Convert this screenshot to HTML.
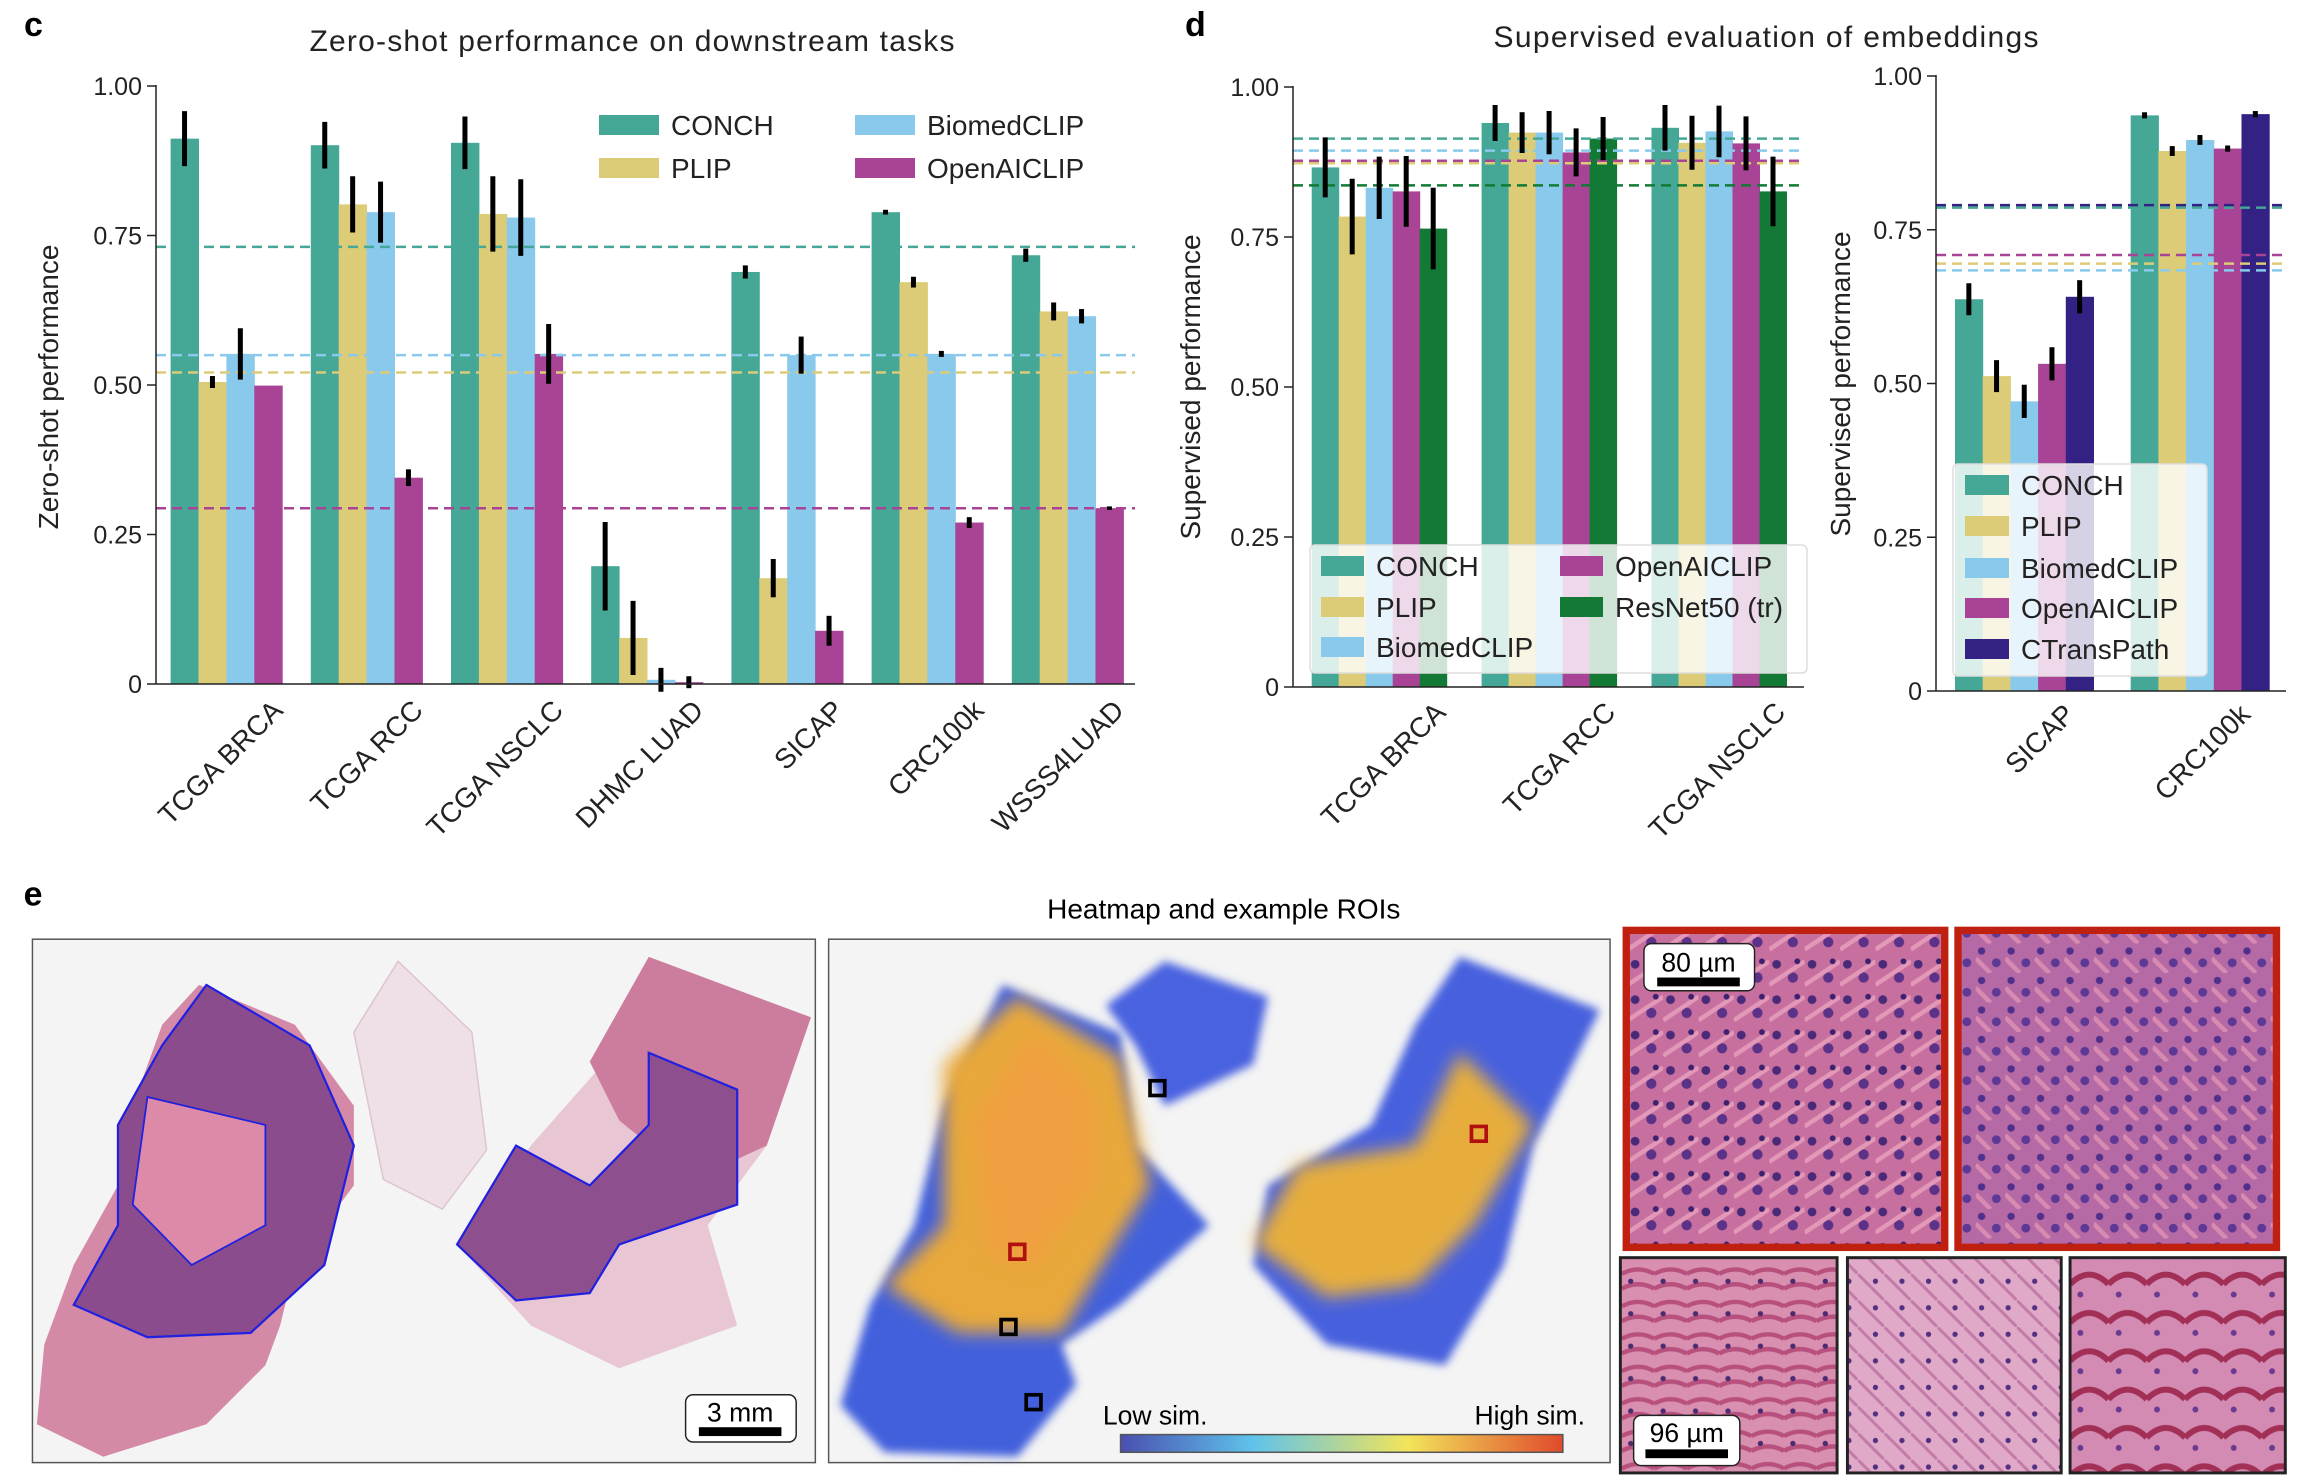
<!DOCTYPE html>
<html><head><meta charset="utf-8"><style>
html,body{margin:0;padding:0;background:#fff;}
svg{display:block;font-family:"Liberation Sans Narrow","Liberation Sans",sans-serif;}
</style></head><body>
<svg id="fig" width="2300" height="1484" viewBox="0 0 2300 1484" xmlns="http://www.w3.org/2000/svg">
<defs>
<filter id="blur6" x="-20%" y="-20%" width="140%" height="140%"><feGaussianBlur stdDeviation="6"/></filter>
<filter id="blur3"><feGaussianBlur stdDeviation="3"/></filter>
<linearGradient id="cbar" x1="0" x2="1" y1="0" y2="0">
<stop offset="0" stop-color="#4a4fb0"/><stop offset="0.3" stop-color="#5fc3ea"/><stop offset="0.65" stop-color="#f2e45a"/><stop offset="1" stop-color="#e04a2c"/></linearGradient>
<pattern id="tis1" width="24" height="24" patternUnits="userSpaceOnUse"><rect width="24" height="24" fill="#c7709f"/><circle cx="5" cy="6" r="3" fill="#4a2a78"/><circle cx="16" cy="15" r="3.5" fill="#5b3288"/><path d="M0 20 L24 4" stroke="#e398b8" stroke-width="3"/><circle cx="19" cy="4" r="2" fill="#3e2070"/></pattern>
<pattern id="tis2" width="20" height="20" patternUnits="userSpaceOnUse"><rect width="20" height="20" fill="#b56aa5"/><circle cx="4" cy="5" r="2.5" fill="#50308a"/><circle cx="14" cy="13" r="3" fill="#5d3895"/><path d="M0 10 L10 20" stroke="#d88ab0" stroke-width="3"/></pattern>
<pattern id="tis3" width="22" height="22" patternUnits="userSpaceOnUse"><rect width="22" height="22" fill="#d88fb0"/><path d="M0 6 Q11 0 22 6 M0 16 Q11 10 22 16" stroke="#b8507e" stroke-width="3" fill="none"/><circle cx="6" cy="11" r="1.8" fill="#4b2a70"/></pattern>
<pattern id="tis4" width="18" height="18" patternUnits="userSpaceOnUse"><rect width="18" height="18" fill="#e0a9c8"/><path d="M0 0 L18 18" stroke="#c27aa8" stroke-width="2"/><circle cx="12" cy="5" r="1.8" fill="#533080"/></pattern>
<pattern id="tis5" width="26" height="26" patternUnits="userSpaceOnUse"><rect width="26" height="26" fill="#d38bb3"/><path d="M0 13 Q13 0 26 13" stroke="#a22f55" stroke-width="4" fill="none"/><circle cx="7" cy="20" r="2" fill="#6a3a90"/></pattern>
</defs>
<g id="charts"></g>
<g id="panelE" transform="scale(1.4744)">
<text x="16" y="614" font-size="23" font-weight="bold" font-family="Liberation Sans">e</text>
<text x="830" y="623" font-size="19" text-anchor="middle">Heatmap and example ROIs</text>
<g>
<rect x="22" y="637" width="531" height="355" fill="#f4f4f4" stroke="#555" stroke-width="1"/>
<polygon points="270,652 320,700 330,780 300,820 260,800 240,700" fill="#efe0e8" stroke="#dcc4d0"/>
<polygon points="135,668 200,695 240,750 240,804 200,858 190,899 180,926 140,966 70,988 25,966 30,912 50,858 80,804 90,750 110,695" fill="#d48aa6"/>
<polygon points="140,668 210,709 240,777 220,858 170,904 100,907 50,885 80,831 80,763 110,709" fill="#8a4c8c" stroke="#2020e0" stroke-width="1.5"/>
<polygon points="100,744 180,763 180,831 130,858 90,817" fill="#dc8aa8" stroke="#2020e0" stroke-width="1.2"/>
<polygon points="440,649 550,690 520,777 480,831 500,899 420,928 360,899 310,844 360,777 420,709" fill="#e9c6d4"/>
<polygon points="440,649 550,690 520,777 470,800 420,760 400,720" fill="#cc7c9c"/>
<polygon points="440,714 500,739 500,817 420,844 400,877 350,882 310,844 350,777 400,804 440,763" fill="#8d4f8e" stroke="#2020e0" stroke-width="1.5"/>
<rect x="465" y="946" width="75" height="32" rx="5" fill="#fff" stroke="#222"/>
<text x="502" y="964" font-size="18" text-anchor="middle">3 mm</text>
<rect x="474" y="968" width="56" height="6" fill="#000"/>
</g>
<g>
<rect x="562" y="637" width="530" height="355" fill="#f4f4f4" stroke="#555" stroke-width="1"/>
<polygon points="790,652 860,676 850,722 790,750 770,709 750,682" fill="#4a62e0" filter="url(#blur3)"/>
<polygon points="680,668 760,701 770,777 820,831 760,885 720,912 730,939 690,988 600,985 570,953 590,885 620,831 640,750" fill="#4360dc" filter="url(#blur3)"/>
<polygon points="690,676 760,717 780,804 720,904 650,904 600,872 640,831 640,722" fill="#e8a83a" filter="url(#blur6)"/>
<polygon points="700,700 740,740 745,800 700,860 670,850 660,760" fill="#f0a040" filter="url(#blur6)"/>
<polygon points="990,649 1085,685 1040,777 1020,858 980,926 900,912 850,858 860,804 930,763 960,695" fill="#4660de" filter="url(#blur3)"/>
<polygon points="990,714 1040,763 1000,831 960,872 900,880 850,844 880,790 960,777" fill="#e6ad3e" filter="url(#blur6)"/>
<rect x="780" y="733" width="10" height="10" fill="none" stroke="#000" stroke-width="2.5"/>
<rect x="679" y="895" width="10" height="10" fill="none" stroke="#000" stroke-width="2.5"/>
<rect x="696" y="946" width="10" height="10" fill="none" stroke="#000" stroke-width="2.5"/>
<rect x="685" y="844" width="10" height="10" fill="none" stroke="#b01010" stroke-width="2.5"/>
<rect x="998" y="764" width="10" height="10" fill="none" stroke="#b01010" stroke-width="2.5"/>
<text x="748" y="966" font-size="18">Low sim.</text>
<text x="1075" y="966" font-size="18" text-anchor="end">High sim.</text>
<rect x="760" y="973" width="300" height="12" fill="url(#cbar)" stroke="#555"/>
</g>
<g>
<rect x="1103" y="631" width="216" height="215" fill="url(#tis1)" stroke="#c0200f" stroke-width="5"/>
<rect x="1328" y="631" width="216" height="215" fill="url(#tis2)" stroke="#c0200f" stroke-width="5"/>
<rect x="1099" y="853" width="147" height="146" fill="url(#tis3)" stroke="#222" stroke-width="2"/>
<rect x="1253" y="853" width="145" height="146" fill="url(#tis4)" stroke="#222" stroke-width="2"/>
<rect x="1404" y="853" width="146" height="146" fill="url(#tis5)" stroke="#222" stroke-width="2"/>
<rect x="1115" y="640" width="75" height="32" rx="5" fill="#fff" stroke="#222"/>
<text x="1152" y="659" font-size="18" text-anchor="middle">80 µm</text>
<rect x="1124" y="663" width="56" height="6" fill="#000"/>
<rect x="1108" y="960" width="72" height="34" rx="5" fill="#fff" stroke="#222"/>
<text x="1144" y="978" font-size="18" text-anchor="middle">96 µm</text>
<rect x="1116" y="983" width="56" height="6" fill="#000"/>
</g>
</g>
</svg>
<script>
const NS="http://www.w3.org/2000/svg";
const COL={conch:"#45a896",plip:"#dccc78",biomed:"#88c9ec",openai:"#a84396",resnet:"#137a35",ctp:"#332184"};
// Panel c
const cCats=["TCGA BRCA","TCGA RCC","TCGA NSCLC","DHMC LUAD","SICAP","CRC100k","WSSS4LUAD"];
const cConch=[0.912,0.901,0.905,0.197,0.689,0.789,0.717];
const cPlip=[0.505,0.802,0.786,0.077,0.177,0.672,0.623];
const cBiomed=[0.552,0.789,0.780,0.007,0.550,0.552,0.615];
const cOpenai=[0.499,0.345,0.552,0.003,0.089,0.270,0.294];
const cConchErr=[0.046,0.039,0.044,0.074,0.011,0.004,0.011];
const cPlipErr=[0.010,0.047,0.063,0.062,0.032,0.009,0.015];
const cBiomedErr=[0.043,0.051,0.064,0.020,0.031,0.005,0.012];
const cOpenaiErr=[0.000,0.014,0.050,0.010,0.025,0.009,0.003];
const cMeans=[0.731,0.521,0.550,0.294];
// Panel d left
const dCats=["TCGA BRCA","TCGA RCC","TCGA NSCLC"];
const dConch=[0.866,0.940,0.932];
const dPlip=[0.784,0.924,0.907];
const dBiomed=[0.832,0.924,0.926];
const dOpenai=[0.826,0.891,0.906];
const dResnet=[0.764,0.914,0.826];
const dConchErr=[0.050,0.030,0.038];
const dPlipErr=[0.063,0.034,0.045];
const dBiomedErr=[0.052,0.036,0.043];
const dOpenaiErr=[0.059,0.040,0.045];
const dResnetErr=[0.068,0.036,0.058];
const dMeans=[0.914,0.873,0.894,0.877,0.836];
// Panel d right
const eCats=["SICAP","CRC100k"];
const eConch=[0.637,0.936];
const ePlip=[0.512,0.878];
const eBiomed=[0.471,0.896];
const eOpenai=[0.532,0.882];
const eCtp=[0.641,0.938];
const eConchErr=[0.026,0.005];
const ePlipErr=[0.026,0.008];
const eBiomedErr=[0.027,0.008];
const eOpenaiErr=[0.027,0.005];
const eCtpErr=[0.027,0.005];
const eMeans=[0.786,0.695,0.684,0.709,0.790];
const tickVals=[0,0.25,0.5,0.75,1];
const tickLabels=["0","0.25","0.50","0.75","1.00"];

const root=document.getElementById("charts");
function mk(tag,attrs,parent,text){const e=document.createElementNS(NS,tag);for(const k in attrs)e.setAttribute(k,attrs[k]);if(text!==undefined)e.textContent=text;(parent||root).appendChild(e);return e;}

function chart(cfg){
  const g=mk("g",{});
  
  
  const y=v=>cfg.y0-(cfg.y0-cfg.y1)*v;
  const nS=cfg.series.length;
  const x=(i,s)=>cfg.start+i*cfg.pitch+s*cfg.bw;
  cfg.series.forEach((s,si)=>{
    s.vals.forEach((v,i)=>{
      const r=mk("rect",{x:x(i,si),y:y(v),width:cfg.bw+0.5,height:y(0)-y(v),fill:s.color},g);
      
      
    });
  });
  cfg.series.forEach((s,si)=>{
    const l=mk("line",{x1:cfg.ax,x2:cfg.axEnd,y1:y(cfg.means[si]),y2:y(cfg.means[si]),stroke:s.color,"stroke-width":2.5,"stroke-dasharray":"10 6"},g);
    
    
  });
  cfg.series.forEach((s,si)=>{
    s.vals.forEach((v,i)=>{
      const e=s.err[i]; if(e<=0)return;
      const cx=x(i,si)+cfg.bw/2;
      const l=mk("line",{x1:cx,x2:cx,y1:y(v-e),y2:y(v+e),stroke:"#000","stroke-width":5},g);
      
      
    });
  });
  const ya=mk("line",{x1:cfg.ax,x2:cfg.ax,y1:y(1)-1,y2:y(0),stroke:"#222","stroke-width":1.5},g);
  
  
  const xa=mk("line",{x1:cfg.ax,x2:cfg.axEnd,y1:y(0),y2:y(0),stroke:"#222","stroke-width":1.5},g);
  
  
  tickVals.forEach((v,i)=>{
    mk("line",{x1:cfg.ax-9,x2:cfg.ax,y1:y(v),y2:y(v),stroke:"#222","stroke-width":1.5},g);
    const t=mk("text",{x:cfg.ax-14,y:y(v)+9,"font-size":25,"text-anchor":"end",fill:"#222"},g,tickLabels[i]);
    
    
  });
  cfg.cats.forEach((c,i)=>{
    const cx=cfg.start+i*cfg.pitch+nS*cfg.bw/2+cfg.lblOff;
    const t=mk("text",{x:cx,y:cfg.lblY,"font-size":28,"text-anchor":"end",fill:"#222",transform:`rotate(-45 ${cx} ${cfg.lblY})`},g,c);
    
    
  });
  const yt=mk("text",{x:cfg.ytX,y:cfg.ytY,"font-size":28,"text-anchor":"middle","font-family":"Liberation Sans",fill:"#222",transform:`rotate(-90 ${cfg.ytX} ${cfg.ytY})`},g,cfg.ytitle);
  
  
  return g;
}

chart({name:"zero-shot-chart",cats:cCats,y0:684,y1:86,ax:156,axEnd:1135,start:170.6,pitch:140.2,bw:27.9,lblOff:58,lblY:712,
  ytitle:"Zero-shot performance",ytX:58,ytY:387,means:cMeans,
  series:[{key:"conch",color:COL.conch,vals:cConch,err:cConchErr},{key:"plip",color:COL.plip,vals:cPlip,err:cPlipErr},
          {key:"biomedclip",color:COL.biomed,vals:cBiomed,err:cBiomedErr},{key:"openaiclip",color:COL.openai,vals:cOpenai,err:cOpenaiErr}]});
chart({name:"supervised-chart-wsi",cats:dCats,y0:687,y1:87,ax:1293,axEnd:1804,start:1311.7,pitch:169.9,bw:27,lblOff:68,lblY:714,
  ytitle:"Supervised performance",ytX:1200,ytY:387,means:dMeans,
  series:[{key:"conch",color:COL.conch,vals:dConch,err:dConchErr},{key:"plip",color:COL.plip,vals:dPlip,err:dPlipErr},
          {key:"biomedclip",color:COL.biomed,vals:dBiomed,err:dBiomedErr},{key:"openaiclip",color:COL.openai,vals:dOpenai,err:dOpenaiErr},
          {key:"resnet50",color:COL.resnet,vals:dResnet,err:dResnetErr}]});
chart({name:"supervised-chart-roi",cats:eCats,y0:691,y1:76,ax:1936,axEnd:2286,start:1955,pitch:175.7,bw:27.7,lblOff:52,lblY:716,
  ytitle:"Supervised performance",ytX:1850,ytY:384,means:eMeans,
  series:[{key:"conch",color:COL.conch,vals:eConch,err:eConchErr},{key:"plip",color:COL.plip,vals:ePlip,err:ePlipErr},
          {key:"biomedclip",color:COL.biomed,vals:eBiomed,err:eBiomedErr},{key:"openaiclip",color:COL.openai,vals:eOpenai,err:eOpenaiErr},
          {key:"ctranspath",color:COL.ctp,vals:eCtp,err:eCtpErr}]});

const t1=mk("text",{x:632,y:51,"font-size":30,"text-anchor":"middle",textLength:645,fill:"#222"},root,"Zero-shot performance on downstream tasks");


const t2=mk("text",{x:1766,y:47,"font-size":30,"text-anchor":"middle",textLength:545,fill:"#222"},root,"Supervised evaluation of embeddings");


const lc=mk("text",{x:24,y:36,"font-size":34,"font-weight":"bold","font-family":"Liberation Sans"},root,"c");


const ld=mk("text",{x:1185,y:36,"font-size":34,"font-weight":"bold","font-family":"Liberation Sans"},root,"d");



function legendItem(x,y,color,label,parent,sw){
  const g=mk("g",{},parent);
  
  
  mk("rect",{x:x,y:y-10,width:sw,height:20,fill:color},g);
  mk("text",{x:x+sw+12,y:y+10,"font-size":28,fill:"#222"},g,label);
}
const legC=mk("g",{});


legendItem(599,125,COL.conch,"CONCH",legC,60);
legendItem(599,168,COL.plip,"PLIP",legC,60);
legendItem(855,125,COL.biomed,"BiomedCLIP",legC,60);
legendItem(855,168,COL.openai,"OpenAICLIP",legC,60);

const legD=mk("g",{});


mk("rect",{x:1310,y:545,width:497,height:128,rx:5,fill:"rgba(255,255,255,0.8)",stroke:"#ddd","stroke-width":1.5},legD);
legendItem(1321,566,COL.conch,"CONCH",legD,43);
legendItem(1321,607,COL.plip,"PLIP",legD,43);
legendItem(1321,647,COL.biomed,"BiomedCLIP",legD,43);
legendItem(1560,566,COL.openai,"OpenAICLIP",legD,43);
legendItem(1560,607,COL.resnet,"ResNet50 (tr)",legD,43);

const legE=mk("g",{});


mk("rect",{x:1953,y:464,width:254,height:212,rx:5,fill:"rgba(255,255,255,0.8)",stroke:"#ddd","stroke-width":1.5},legE);
legendItem(1965,485,COL.conch,"CONCH",legE,44);
legendItem(1965,526,COL.plip,"PLIP",legE,44);
legendItem(1965,568,COL.biomed,"BiomedCLIP",legE,44);
legendItem(1965,608,COL.openai,"OpenAICLIP",legE,44);
legendItem(1965,649,COL.ctp,"CTransPath",legE,44);
</script>
</body></html>
